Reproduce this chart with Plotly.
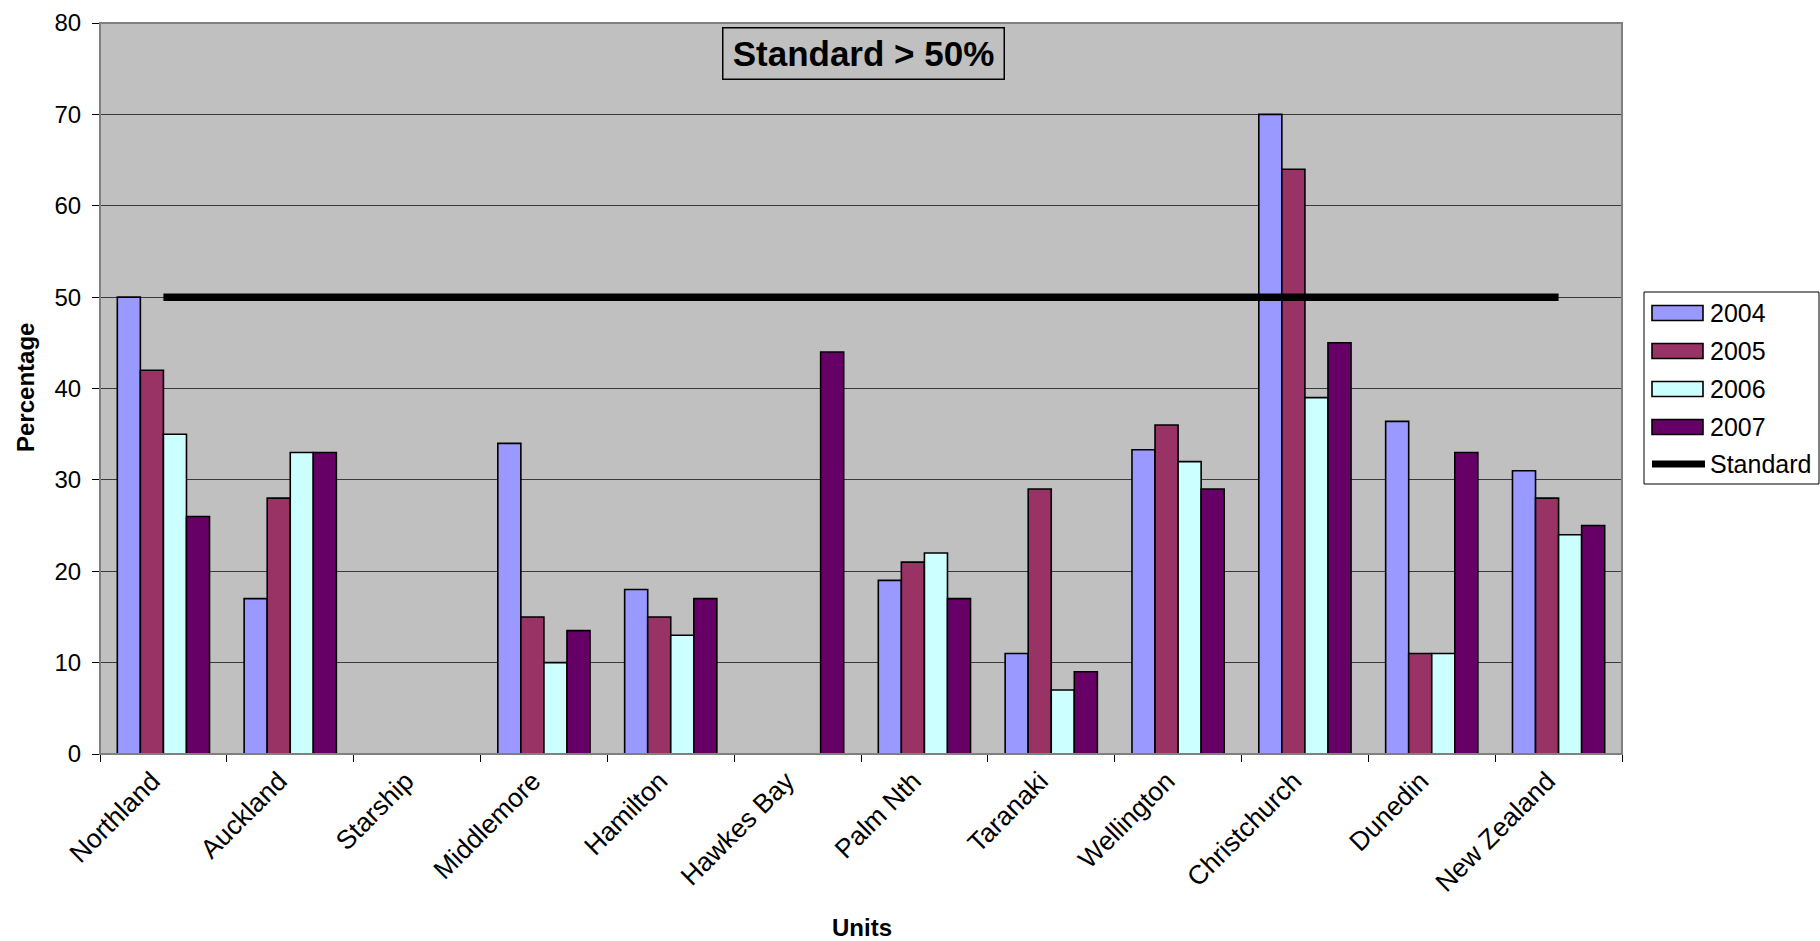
import plotly.graph_objects as go

units = ["Northland", "Auckland", "Starship", "Middlemore", "Hamilton", "Hawkes Bay",
         "Palm Nth", "Taranaki", "Wellington", "Christchurch", "Dunedin", "New Zealand"]
years = ["2004", "2005", "2006", "2007"]
v2004 = [50, 17, None, 34, 18, None, 19, 11, 33.3, 70, 36.4, 31]
v2005 = [42, 28, None, 15, 15, None, 21, 29, 36, 64, 11, 28]
v2006 = [35, 33, None, 10, 13, None, 22, 7, 32, 39, 11, 24]
v2007 = [26, 33, None, 13.5, 17, 44, 17, 9, 29, 45, 33, 25]
standard = [50, 50, 50, 50, 50, 50, 50, 50, 50, 50, 50, 50]
colors = ["#9999FF", "#993366", "#CCFFFF", "#660066"]

W, H = 1820, 941
L, R, T, B = 100, 1622, 23, 754  # plot area in pixels


def px_x(p):
    return (p - L) / (R - L)


def px_y(p):
    return (B - p) / (B - T)


fig = go.Figure()
for name, vals, col in zip(years, [v2004, v2005, v2006, v2007], colors):
    fig.add_trace(go.Bar(x=units, y=vals, name=name, marker=dict(color=col, line=dict(color="black", width=1.6)),
                         showlegend=False))
fig.add_trace(go.Scatter(x=units, y=standard, name="Standard", mode="lines",
                         line=dict(color="black", width=7.5), showlegend=False))

font = "Liberation Sans, Arial, sans-serif"

shapes = []
annotations = []
# plot border (top/right gray)
shapes.append(dict(type="rect", xref="paper", yref="paper", x0=0, x1=1, y0=0, y1=1,
                   line=dict(color="#808080", width=2), layer="above"))

# custom legend
lx0, lx1, ly0, ly1 = 1644, 1819, 292, 484
shapes.append(dict(type="rect", xref="paper", yref="paper", x0=px_x(lx0), x1=px_x(lx1),
                   y0=px_y(ly1), y1=px_y(ly0), line=dict(color="black", width=1), fillcolor="white"))
item_y = [313, 351, 389, 427, 464]
for i, (name, col) in enumerate(zip(years, colors)):
    yc = item_y[i]
    shapes.append(dict(type="rect", xref="paper", yref="paper", x0=px_x(1652), x1=px_x(1703),
                       y0=px_y(yc + 7.5), y1=px_y(yc - 7.5), fillcolor=col,
                       line=dict(color="black", width=1.6)))
    annotations.append(dict(text=name, xref="paper", yref="paper", x=px_x(1708), y=px_y(yc),
                            xanchor="left", yanchor="middle", showarrow=False,
                            font=dict(family=font, size=25, color="black")))
yc = item_y[4]
shapes.append(dict(type="line", xref="paper", yref="paper", x0=px_x(1652), x1=px_x(1705),
                   y0=px_y(yc), y1=px_y(yc), line=dict(color="black", width=7)))
annotations.append(dict(text="Standard", xref="paper", yref="paper", x=px_x(1708), y=px_y(yc),
                        xanchor="left", yanchor="middle", showarrow=False,
                        font=dict(family=font, size=25, color="black")))

# chart title box
annotations.append(dict(text="<b>Standard > 50%</b>", xref="paper", yref="paper",
                        x=px_x(863.5), y=px_y(54), xanchor="center", yanchor="middle",
                        showarrow=False, width=278, height=48, borderpad=1,
                        bordercolor="black", borderwidth=1.5, bgcolor="#C0C0C0",
                        font=dict(family=font, size=35, color="black")))

# axis titles
annotations.append(dict(text="<b>Units</b>", xref="paper", yref="paper", x=px_x(862), y=px_y(928),
                        xanchor="center", yanchor="middle", showarrow=False,
                        font=dict(family=font, size=24, color="black")))
annotations.append(dict(text="<b>Percentage</b>", xref="paper", yref="paper", x=px_x(25), y=px_y(388),
                        xanchor="center", yanchor="middle", showarrow=False, textangle=-90,
                        font=dict(family=font, size=24, color="black")))

fig.update_layout(
    width=W, height=H,
    margin=dict(l=L, r=W - R, t=T, b=H - B, pad=0),
    paper_bgcolor="white", plot_bgcolor="#C0C0C0",
    barmode="group", bargap=0.273, bargroupgap=0,
    font=dict(family=font, color="black"),
    shapes=shapes, annotations=annotations,
    xaxis=dict(type="category", tickson="boundaries", ticks="outside", ticklen=7, tickcolor="black",
               tickwidth=1, showline=True, linecolor="black", linewidth=1, showgrid=False,
               tickangle=-45, ticklabelshift=-11, automargin=False,
               tickfont=dict(size=26.5, family=font, color="black")),
    yaxis=dict(range=[0, 80], dtick=10, ticks="outside", ticklen=7, tickcolor="black", tickwidth=1,
               showline=True, linecolor="black", linewidth=1, showgrid=True, gridcolor="#3a3a3a",
               gridwidth=1, zeroline=False, ticklabelstandoff=6, automargin=False,
               tickfont=dict(size=24, family=font, color="black")),
)

fig.write_html("out.html", config={"displayModeBar": False},
               post_script="document.body.style.margin='0';document.body.style.overflow='hidden';")
